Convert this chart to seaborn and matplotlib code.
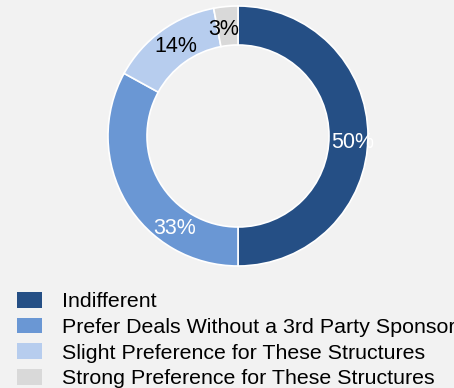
import matplotlib
matplotlib.use("Agg")
import matplotlib.pyplot as plt
from matplotlib.patches import Patch
import numpy as np
import seaborn as sns

categories = [
    "Indifferent",
    "Prefer Deals Without a 3rd Party Sponsor",
    "Slight Preference for These Structures",
    "Strong Preference for These Structures",
]
shares = [50, 33, 14, 3]
colors = ["#254f85", "#6a97d4", "#b7cdee", "#d9d9d9"]
label_colors = ["white", "white", "black", "black"]
# angular nudge (degrees) and radius for each percentage label
label_nudge = [-3.5, 25.0, -1.0, 2.4]
label_radius = [0.88, 0.86, 0.84, 0.83]

sns.set_theme(style="white")
plt.rcParams["font.family"] = ["Liberation Sans", "DejaVu Sans"]

W, H, DPI = 454, 388, 100
fig = plt.figure(figsize=(W / DPI, H / DPI), dpi=DPI)
fig.patch.set_facecolor("#f2f2f2")

cx, cy, r = 238, 136, 130
ax = fig.add_axes([(cx - r) / W, (H - cy - r) / H, 2 * r / W, 2 * r / H])
ax.set_facecolor("none")

wedges, _ = ax.pie(
    shares,
    colors=colors,
    startangle=90,
    counterclock=False,
    radius=1.0,
    wedgeprops=dict(width=0.3, edgecolor="white", linewidth=1.2),
)
ax.set_xlim(-1, 1)
ax.set_ylim(-1, 1)
ax.set_aspect("equal")
ax.axis("off")

for w, val, col, nud, rr in zip(wedges, shares, label_colors, label_nudge, label_radius):
    ang = np.deg2rad((w.theta1 + w.theta2) / 2 + nud)
    ax.text(rr * np.cos(ang), rr * np.sin(ang), f"{val}%",
            ha="center", va="center", color=col, fontsize=15.5)

handles = [Patch(facecolor=c, edgecolor="none") for c in colors]
fs = 15.4
fpx = fs * DPI / 72
fig.legend(
    handles, categories,
    loc="upper left",
    bbox_to_anchor=(17 / W, 1 - 292 / H),
    frameon=False,
    fontsize=fs,
    handlelength=25 / fpx,
    handleheight=16 / fpx,
    handletextpad=20 / fpx,
    labelspacing=0.3,
    borderpad=0,
    borderaxespad=0,
    labelcolor="black",
)

fig.savefig("out.png", dpi=DPI, facecolor=fig.get_facecolor())
